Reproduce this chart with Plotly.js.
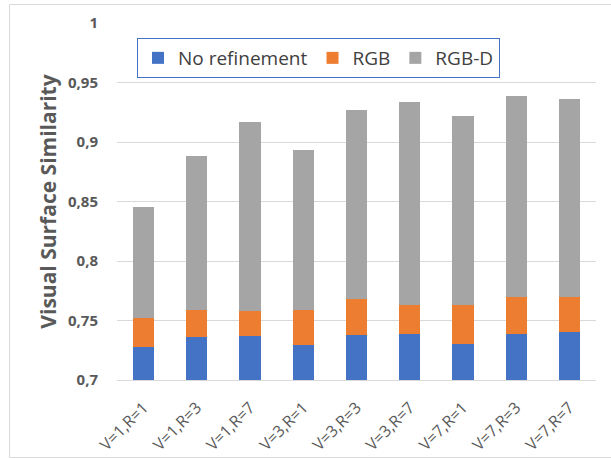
<!DOCTYPE html>
<html>
<head>
<meta charset="utf-8">
<script src="https://cdn.plot.ly/plotly-3.0.1.min.js"></script>
<style>html,body{margin:0;padding:0;background:#fff}#chart{width:611px;height:458px}</style>
</head>
<body>
<div id="chart"></div>
<script>
// Category labels
const categories = ["V=1,R=1","V=1,R=3","V=1,R=7","V=3,R=1","V=3,R=3","V=3,R=7","V=7,R=1","V=7,R=3","V=7,R=7"];
// Top of each stacked segment
const noRefinementTop = [0.728,0.736,0.737,0.729,0.738,0.739,0.730,0.739,0.740];
const rgbTop          = [0.752,0.759,0.758,0.759,0.768,0.763,0.763,0.770,0.770];
const rgbdTop         = [0.845,0.888,0.917,0.893,0.927,0.934,0.922,0.939,0.936];
const yTicks = [0.7,0.75,0.8,0.85,0.9,0.95,1];

const rgbSeg  = rgbTop.map((v,i)=>v - noRefinementTop[i]);
const rgbdSeg = rgbdTop.map((v,i)=>v - rgbTop[i]);

const FONT = "Open Sans, Noto Sans, sans-serif";
const traces = [
  {type:"bar", name:"No refinement", x:categories, y:noRefinementTop, marker:{color:"#4472C4"}},
  {type:"bar", name:"RGB", x:categories, y:rgbSeg, marker:{color:"#ED7D31"}},
  {type:"bar", name:"RGB-D", x:categories, y:rgbdSeg, marker:{color:"#A5A5A5"}}
];

// plot area in pixels
const L=117, R=596, T=23, B=380;
const px = v => (v - L)/(R-L);
const py = v => 1 - (v - T)/(B-T);

const layout = {
  width:611, height:458,
  barmode:"stack", bargap:0.6,
  separators:",.",
  margin:{l:L, r:611-R, t:T, b:458-B, pad:0},
  paper_bgcolor:"#fff", plot_bgcolor:"#fff",
  font:{family:FONT, color:"#595959"},
  showlegend:true,
  legend:{orientation:"h", x:px(137), y:py(38), xanchor:"left", yanchor:"top",
          bgcolor:"#fff", bordercolor:"#4472C4", borderwidth:1,
          font:{size:19, color:"#404040", family:FONT}, traceorder:"normal"},
  xaxis:{type:"category", tickangle:-45, tickfont:{size:16, color:"#595959"},
         showgrid:false, showline:true, linecolor:"#d9d9d9", linewidth:1,
         ticks:"", ticklabelstandoff:11, automargin:false, fixedrange:true},
  yaxis:{range:[0.7,1], tickvals:yTicks, ticktext:yTicks.map(v=>String(v).replace(".",",")),
         tickfont:{size:15, color:"#595959", weight:"bold"},
         showgrid:true, gridcolor:"#d9d9d9", gridwidth:1, zeroline:false, showline:false,
         ticks:"", ticklabelstandoff:18, automargin:false,
         title:{text:"Visual Surface Similarity", font:{size:21, color:"#595959", weight:"bold"}, standoff:5}},
  shapes:[
    {type:"rect", xref:"paper", yref:"paper", x0:px(9.5), x1:px(640), y0:py(457.5), y1:py(4.5),
     line:{color:"#d9d9d9", width:1}, fillcolor:"rgba(0,0,0,0)", layer:"below"}
  ]
};

Plotly.newPlot("chart", traces, layout, {staticPlot:true, displayModeBar:false});
</script>
</body>
</html>
